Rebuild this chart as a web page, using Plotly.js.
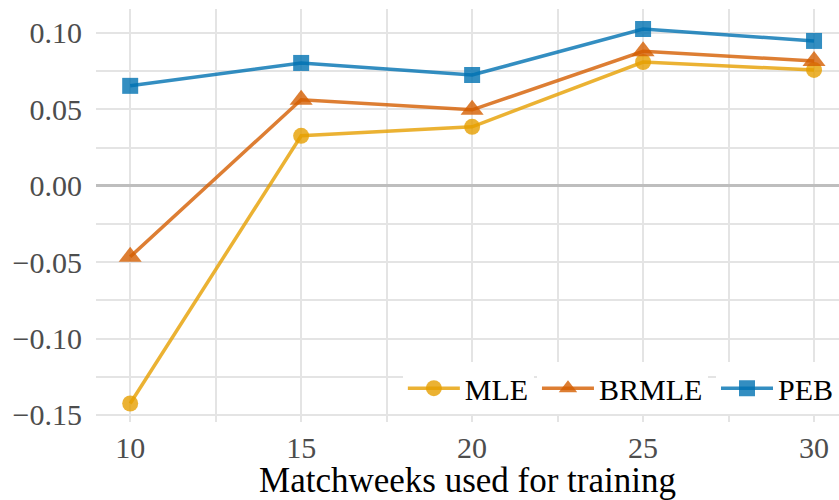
<!DOCTYPE html>
<html><head><meta charset="utf-8">
<script src="https://cdn.plot.ly/plotly-3.0.1.min.js"></script>
<style>html,body{margin:0;padding:0;background:#fff}#chart{width:839px;height:500px}</style>
</head><body><div id="chart"></div>
<script>
const matchweeks = [10, 15, 20, 25, 30];
const mle   = [-0.1425, 0.0327, 0.0386, 0.0810, 0.0758];
const brmle = [-0.0465, 0.0563, 0.0497, 0.0880, 0.0817];
const peb   = [0.0654, 0.0804, 0.0725, 0.1026, 0.0948];
const seriesNames = ['MLE', 'BRMLE', 'PEB'];
const xTicks = [10, 15, 20, 25, 30];
const yTicks = [-0.15, -0.10, -0.05, 0.00, 0.05, 0.10];

const FONT = 'Liberation Serif, DejaVu Serif, serif';
const colors = ['rgba(230,159,0,0.8)', 'rgba(213,94,0,0.8)', 'rgba(0,114,178,0.8)'];
const symbols = ['circle', 'triangle-up', 'square'];
const sizes = [16, 20, 16];
const legendIds = ['legend', 'legend2', 'legend3'];
const data = [mle, brmle, peb].map((ys, i) => ({
  x: matchweeks, y: ys, name: seriesNames[i], type: 'scatter', mode: 'lines+markers',
  legend: legendIds[i],
  line: {color: colors[i], width: 3.5},
  marker: {color: colors[i], symbol: symbols[i], size: sizes[i]}
}));

const grid = '#e4e4e4';
const mkLegend = (x, anchor) => ({orientation: 'h', x: x, xanchor: anchor, y: 0.082, yanchor: 'middle',
  bgcolor: '#fff', font: {family: FONT, size: 30, color: '#000'}, itemwidth: 52});
const layout = {
  width: 839, height: 500,
  margin: {l: 96, r: 0, t: 9, b: 78},
  paper_bgcolor: '#fff', plot_bgcolor: '#fff',
  showlegend: true,
  legend: mkLegend(0.413, 'left'), legend2: mkLegend(0.5935, 'left'), legend3: mkLegend(1, 'right'),
  xaxis: {range: [9.0, 30.73], tickvals: xTicks, ticktext: xTicks.map(String),
          showgrid: true, gridcolor: grid, gridwidth: 2, zeroline: false, showline: false, ticks: '',
          ticklabelstandoff: 5,
          minor: {dtick: 2.5, tick0: 10, showgrid: true, gridcolor: grid, gridwidth: 2},
          tickfont: {family: FONT, size: 30, color: '#4d4d4d'},
          title: {text: 'Matchweeks used for training', font: {family: FONT, size: 35, color: '#000'}, standoff: 0}},
  yaxis: {range: [-0.1546, 0.1157], tickvals: yTicks, ticktext: yTicks.map(v => (v < 0 ? '\u2212' : '') + Math.abs(v).toFixed(2)),
          showgrid: true, gridcolor: grid, gridwidth: 2, zeroline: true, zerolinecolor: '#bebebe', zerolinewidth: 3,
          showline: false, ticks: '', ticklabelstandoff: 13,
          minor: {dtick: 0.025, tick0: 0, showgrid: true, gridcolor: grid, gridwidth: 2},
          tickfont: {family: FONT, size: 30, color: '#4d4d4d'}}
};
Plotly.newPlot('chart', data, layout, {displayModeBar: false, staticPlot: true});
</script></body></html>
